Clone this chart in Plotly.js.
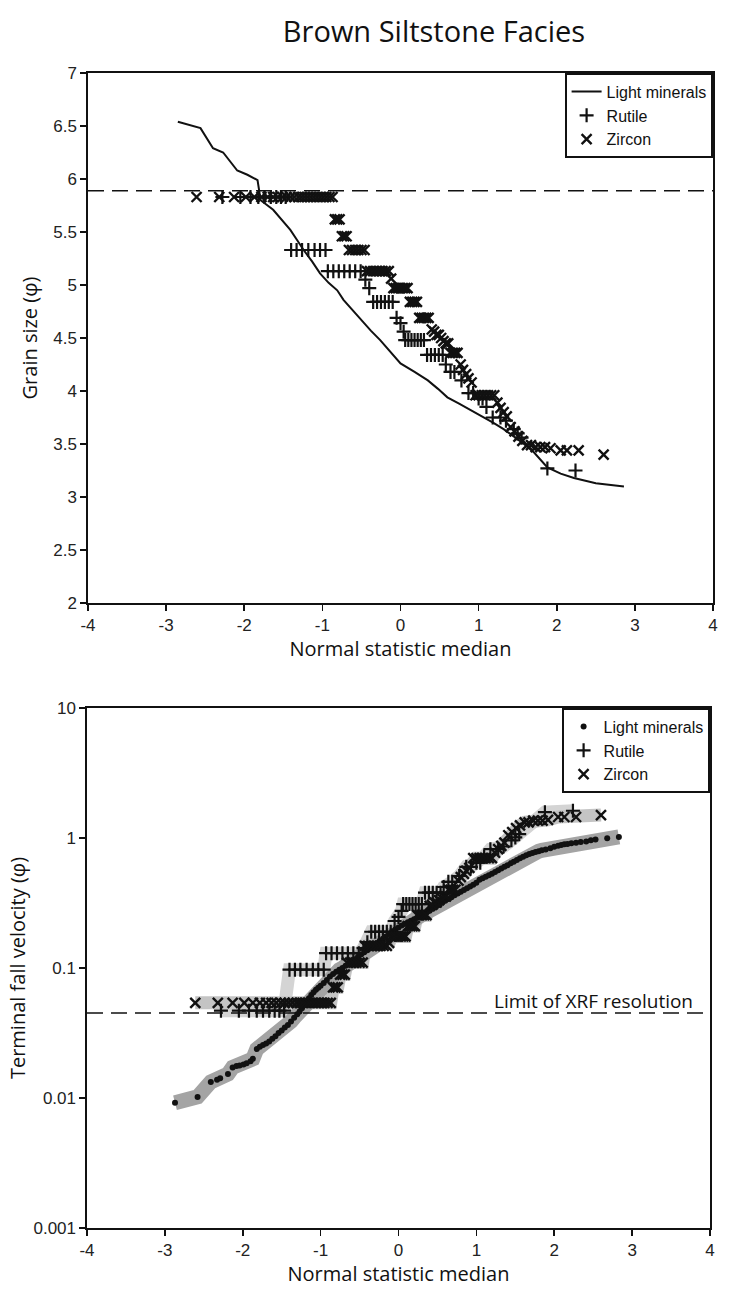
<!DOCTYPE html>
<html>
<head>
<meta charset="utf-8">
<script src="https://cdn.plot.ly/plotly-3.0.1.min.js"></script>
<style>html,body{margin:0;padding:0;background:#fff;}#chart{width:734px;height:1310px;}</style>
</head>
<body>
<div id="chart"></div>
<script>
// ---------- DATA ----------
const chartTitle = 'Brown Siltstone Facies';
const seriesNames = ['Light minerals', 'Rutile', 'Zircon'];
const xTickVals = [-4, -3, -2, -1, 0, 1, 2, 3, 4];
const xTickText = ['-4', '-3', '-2', '-1', '0', '1', '2', '3', '4'];
const yLogTickVals = [0.001, 0.01, 0.1, 1, 10];
const yLogTickText = ['0.001', '0.01', '0.1', '1', '10'];
const xrfLimitGrain = 5.89;      // dashed line, top panel (phi)
const xrfLimitVelocity = 0.045;  // dashed line, bottom panel
const xrfLabel = 'Limit of XRF resolution';
const xrfLabelX = 2.5;

// Top panel: light minerals curve
const lightLineX = [-2.85,-2.56,-2.40,-2.27,-2.09,-1.96,-1.83,-1.79,-1.63,-1.52,-1.41,-1.32,-1.24,-1.13,-1.03,-0.92,-0.81,-0.73,-0.62,-0.51,-0.38,-0.26,-0.13,0.00,0.18,0.35,0.48,0.60,0.75,0.90,1.05,1.19,1.32,1.45,1.58,1.71,1.80,1.88,2.05,2.22,2.50,2.86];
const lightLineY = [6.54,6.48,6.29,6.25,6.08,6.04,5.99,5.80,5.71,5.62,5.52,5.42,5.33,5.22,5.11,5.02,4.95,4.86,4.77,4.67,4.57,4.48,4.37,4.26,4.18,4.10,4.02,3.94,3.88,3.82,3.76,3.70,3.64,3.57,3.50,3.42,3.35,3.28,3.22,3.18,3.13,3.10];

// Rutile: normal statistic median, grain size (top), fall velocity (bottom)
const rutileX = [-2.28,-2.05,-1.92,-1.82,-1.74,-1.66,-1.59,-1.53,-1.47,
  -1.40,-1.33,-1.26,-1.18,-1.10,-1.03,-0.96,
  -0.93,-0.86,-0.79,-0.72,-0.65,-0.58,-0.51,
  -0.45,-0.40,
  -0.35,-0.30,-0.25,-0.20,-0.15,-0.10,
  -0.05,0.00,0.04,
  0.06,0.10,0.14,0.18,0.22,0.26,0.30,
  0.34,0.39,0.44,0.49,0.54,
  0.58,0.64,0.69,0.78,
  0.87,0.93,1.00,1.05,1.10,
  1.18,1.28,1.35,
  1.45,1.50,1.55,
  1.88,2.24];
const rutileGrain = [5.83,5.83,5.83,5.83,5.83,5.83,5.83,5.83,5.83,
  5.33,5.33,5.33,5.33,5.33,5.33,5.33,
  5.13,5.13,5.13,5.13,5.13,5.13,5.13,
  5.05,4.97,
  4.84,4.84,4.84,4.84,4.84,4.84,
  4.69,4.64,4.56,
  4.48,4.48,4.48,4.48,4.48,4.48,4.48,
  4.34,4.34,4.34,4.34,4.34,
  4.25,4.18,4.18,4.10,
  3.98,3.98,3.93,3.93,3.85,
  3.75,3.75,3.72,
  3.64,3.60,3.56,
  3.27,3.25];
const rutileVelocity = [0.047,0.047,0.047,0.047,0.047,0.047,0.047,0.047,0.047,
  0.097,0.097,0.097,0.097,0.097,0.097,0.097,
  0.13,0.13,0.13,0.13,0.13,0.13,0.13,
  0.142,0.158,
  0.19,0.19,0.19,0.19,0.19,0.19,
  0.23,0.247,0.275,
  0.31,0.31,0.31,0.31,0.31,0.31,0.31,
  0.38,0.38,0.38,0.38,0.38,
  0.42,0.46,0.46,0.51,
  0.60,0.60,0.645,0.645,0.72,
  0.82,0.82,0.86,
  0.96,1.01,1.07,
  1.58,1.62];

// Zircon
const zirconX = [-2.61,-2.32,-2.13,-1.98,-1.87,-1.78,-1.70,-1.63,-1.57,-1.51,-1.46,-1.41,-1.36,-1.31,-1.27,-1.23,-1.19,-1.15,-1.11,-1.07,-1.03,-0.99,-0.95,-0.91,-0.87,
  -0.84,-0.81,-0.78,
  -0.75,-0.72,-0.69,
  -0.66,-0.62,-0.58,-0.54,-0.50,-0.46,
  -0.43,-0.39,-0.35,-0.31,-0.27,-0.23,-0.19,-0.15,
  -0.12,
  -0.09,-0.06,-0.03,0.00,0.03,0.06,0.09,
  0.12,0.15,0.18,0.21,
  0.24,0.27,0.30,0.33,0.36,
  0.40,0.43,0.46,0.49,
  0.52,0.55,0.58,0.61,
  0.64,0.67,0.70,0.73,
  0.77,0.80,0.84,0.87,0.91,
  0.96,1.00,1.04,1.08,1.12,1.16,1.20,
  1.24,1.28,1.32,1.36,
  1.41,1.46,1.51,
  1.56,1.62,1.67,1.73,1.79,1.85,1.92,
  2.05,2.13,2.28,
  2.60];
const zirconGrain = [5.83,5.83,5.83,5.83,5.83,5.83,5.83,5.83,5.83,5.83,5.83,5.83,5.83,5.83,5.83,5.83,5.83,5.83,5.83,5.83,5.83,5.83,5.83,5.83,5.83,
  5.62,5.62,5.62,
  5.46,5.46,5.46,
  5.33,5.33,5.33,5.33,5.33,5.33,
  5.13,5.13,5.13,5.13,5.13,5.13,5.13,5.13,
  5.06,
  4.97,4.97,4.97,4.97,4.97,4.97,4.97,
  4.84,4.84,4.84,4.84,
  4.69,4.69,4.69,4.69,4.69,
  4.58,4.56,4.53,4.53,
  4.50,4.47,4.45,4.45,
  4.36,4.36,4.36,4.36,
  4.25,4.20,4.16,4.12,4.08,
  3.96,3.96,3.96,3.96,3.96,3.96,3.96,
  3.89,3.84,3.80,3.76,
  3.66,3.62,3.57,
  3.53,3.49,3.49,3.47,3.47,3.47,3.46,
  3.44,3.44,3.44,
  3.40];
const zirconVelocity = [0.054,0.054,0.054,0.054,0.054,0.054,0.054,0.054,0.054,0.054,0.054,0.054,0.054,0.054,0.054,0.054,0.054,0.054,0.054,0.054,0.054,0.054,0.054,0.054,0.054,
  0.071,0.071,0.071,
  0.089,0.089,0.089,
  0.11,0.11,0.11,0.11,0.11,0.11,
  0.148,0.148,0.148,0.148,0.148,0.148,0.148,0.148,
  0.156,
  0.175,0.175,0.175,0.175,0.175,0.175,0.175,
  0.21,0.21,0.21,0.21,
  0.255,0.255,0.255,0.255,0.255,
  0.30,0.306,0.32,0.32,
  0.333,0.347,0.356,0.356,
  0.40,0.40,0.40,0.40,
  0.47,0.50,0.53,0.56,0.59,
  0.70,0.70,0.70,0.70,0.70,0.70,0.70,
  0.77,0.82,0.87,0.92,
  1.05,1.11,1.19,
  1.25,1.32,1.32,1.36,1.36,1.36,1.38,
  1.45,1.45,1.45,
  1.50];

// Bottom panel: light minerals points
const lightDotX = [-2.87,-2.58,-2.41,-2.33,-2.29,-2.19,-2.13,-2.08,-2.04,-1.99,-1.95,-1.90,-1.87,-1.82,-1.78,-1.74,-1.70,-1.66,-1.62,-1.58,-1.54,-1.50,-1.46,-1.42,-1.38,-1.34,-1.30,-1.27,-1.24,-1.21,-1.18,-1.15,-1.12,-1.09,-1.06,-1.03,-1.00,-0.96,-0.92,-0.88,-0.84,-0.80,-0.76,-0.72,-0.68,-0.64,-0.60,-0.56,-0.52,-0.48,-0.44,-0.40,-0.36,-0.32,-0.28,-0.24,-0.20,-0.16,-0.12,-0.08,-0.04,0.00,0.04,0.08,0.12,0.16,0.20,0.24,0.28,0.32,0.36,0.40,0.44,0.48,0.52,0.56,0.60,0.64,0.68,0.72,0.76,0.80,0.84,0.88,0.92,0.96,1.00,1.04,1.08,1.12,1.16,1.20,1.24,1.28,1.32,1.36,1.40,1.44,1.48,1.52,1.56,1.60,1.64,1.68,1.72,1.76,1.80,1.84,1.89,1.95,2.00,2.05,2.09,2.13,2.17,2.22,2.28,2.34,2.41,2.47,2.53,2.68,2.83];
const lightDotV = [0.0092,0.0102,0.0133,0.0138,0.0142,0.0153,0.0172,0.0176,0.0178,0.0181,0.0185,0.0192,0.0200,0.0238,0.0248,0.0256,0.0262,0.0272,0.0285,0.0298,0.0316,0.0330,0.0348,0.0365,0.0388,0.0415,0.0440,0.0462,0.0490,0.0520,0.0550,0.0585,0.0620,0.0650,0.0680,0.0705,0.0730,0.0765,0.0810,0.0860,0.0900,0.0935,0.0970,0.1000,0.1040,0.1080,0.1120,0.1170,0.1220,0.1270,0.1320,0.1370,0.1430,0.1490,0.1550,0.1620,0.1680,0.1750,0.1830,0.1920,0.1980,0.2050,0.2120,0.2180,0.2250,0.2310,0.2370,0.2440,0.2520,0.2600,0.2680,0.2760,0.2850,0.2950,0.3050,0.3170,0.3290,0.3400,0.3500,0.3620,0.3740,0.3860,0.3980,0.4100,0.4230,0.4370,0.4520,0.4780,0.4900,0.5040,0.5180,0.5320,0.5480,0.5650,0.5820,0.6000,0.6180,0.6380,0.6580,0.6780,0.6980,0.7180,0.7360,0.7520,0.7660,0.7790,0.7920,0.8040,0.8150,0.8350,0.8550,0.8700,0.8850,0.8950,0.9000,0.9100,0.9200,0.9300,0.9400,0.9600,0.9750,0.9950,1.0200];

// ---------- STYLE ----------
const INK = '#111111';
const tickFont = {family: 'Liberation Sans, Arial, sans-serif', size: 17, color: '#222'};
const titleFont = {family: 'Open Sans, sans-serif', size: 20, color: '#111'};
const legendFont = {family: 'Liberation Sans, Arial, sans-serif', size: 16, color: '#111'};
const W = 734, H = 1310;

const rutMarker = {symbol: 'cross-thin-open', size: 10, color: INK, line: {color: INK, width: 2.2}};
const zirMarker = {symbol: 'x-thin-open', size: 10, color: INK, line: {color: INK, width: 2.4}};

const traces = [
  // ---- top panel ----
  {x: lightLineX, y: lightLineY, xaxis: 'x', yaxis: 'y', mode: 'lines', name: seriesNames[0],
   line: {color: INK, width: 2}, legend: 'legend'},
  {x: rutileX, y: rutileGrain, xaxis: 'x', yaxis: 'y', mode: 'markers', name: seriesNames[1],
   marker: rutMarker, legend: 'legend'},
  {x: zirconX, y: zirconGrain, xaxis: 'x', yaxis: 'y', mode: 'markers', name: seriesNames[2],
   marker: zirMarker, legend: 'legend'},
  // ---- bottom panel: grey bands ----
  {x: rutileX, y: rutileVelocity, xaxis: 'x2', yaxis: 'y2', mode: 'lines', showlegend: false,
   line: {color: '#d4d4d4', width: 13}, hoverinfo: 'skip'},
  {x: zirconX, y: zirconVelocity, xaxis: 'x2', yaxis: 'y2', mode: 'lines', showlegend: false,
   line: {color: '#c4c4c4', width: 13}, hoverinfo: 'skip'},
  {x: lightDotX, y: lightDotV, xaxis: 'x2', yaxis: 'y2', mode: 'lines', showlegend: false,
   line: {color: '#a4a4a4', width: 15}, hoverinfo: 'skip'},
  // ---- bottom panel: markers ----
  {x: lightDotX, y: lightDotV, xaxis: 'x2', yaxis: 'y2', mode: 'markers', name: seriesNames[0],
   marker: {symbol: 'circle', size: 6, color: INK}, legend: 'legend2'},
  {x: rutileX, y: rutileVelocity, xaxis: 'x2', yaxis: 'y2', mode: 'markers', name: seriesNames[1],
   marker: rutMarker, legend: 'legend2'},
  {x: zirconX, y: zirconVelocity, xaxis: 'x2', yaxis: 'y2', mode: 'markers', name: seriesNames[2],
   marker: zirMarker, legend: 'legend2'}
];

const axisCommon = {
  showline: true, linecolor: INK, linewidth: 1.6, mirror: true,
  ticks: 'outside', ticklen: 6, tickwidth: 1.6, tickcolor: INK,
  showgrid: false, zeroline: false, tickfont: tickFont
};

const layout = {
  width: W, height: H, autosize: false,
  margin: {l: 0, r: 0, t: 0, b: 0},
  paper_bgcolor: '#fff', plot_bgcolor: '#fff',
  title: {text: chartTitle, x: 434 / W, xanchor: 'center', xref: 'container',
          y: 1 - 32 / H, yanchor: 'middle', yref: 'container',
          font: {family: 'Open Sans, sans-serif', size: 29, color: '#111'}},
  xaxis: Object.assign({}, axisCommon, {
    domain: [88 / W, 713 / W], range: [-4, 4], anchor: 'y',
    tickmode: 'array', tickvals: xTickVals, ticktext: xTickText,
    title: {text: 'Normal statistic median', font: titleFont, standoff: 0}
  }),
  yaxis: Object.assign({}, axisCommon, {
    domain: [1 - 603 / H, 1 - 73 / H], range: [2, 7], dtick: 0.5, tick0: 2, anchor: 'x',
    title: {text: 'Grain size (φ)', font: titleFont, standoff: 10}
  }),
  xaxis2: Object.assign({}, axisCommon, {
    domain: [87 / W, 710 / W], range: [-4, 4], anchor: 'y2',
    tickmode: 'array', tickvals: xTickVals, ticktext: xTickText,
    title: {text: 'Normal statistic median', font: titleFont, standoff: 0}
  }),
  yaxis2: Object.assign({}, axisCommon, {
    type: 'log', domain: [1 - 1228 / H, 1 - 708 / H], range: [-3, 1], anchor: 'x2',
    tickmode: 'array', tickvals: yLogTickVals, ticktext: yLogTickText,
    title: {text: 'Terminal fall velocity (φ)', font: titleFont, standoff: 2}
  }),
  legend: {x: 713 / W, xanchor: 'right', y: 1 - 73 / H, yanchor: 'top',
           bgcolor: '#fff', bordercolor: INK, borderwidth: 1.6, font: legendFont,
           itemwidth: 30, tracegroupgap: 0},
  legend2: {x: 710 / W, xanchor: 'right', y: 1 - 708 / H, yanchor: 'top',
            bgcolor: '#fff', bordercolor: INK, borderwidth: 1.6, font: legendFont,
            itemwidth: 30, tracegroupgap: 0},
  shapes: [
    {type: 'line', xref: 'x', yref: 'y', x0: -4, x1: 4, y0: xrfLimitGrain, y1: xrfLimitGrain,
     line: {color: INK, width: 1.5, dash: '16px,8px'}},
    {type: 'line', xref: 'x2', yref: 'y2', x0: -4, x1: 4, y0: xrfLimitVelocity, y1: xrfLimitVelocity,
     line: {color: INK, width: 1.5, dash: '16px,8px'}}
  ],
  annotations: [
    {text: xrfLabel, xref: 'x2', yref: 'y2', x: xrfLabelX, y: Math.log10(xrfLimitVelocity),
     xanchor: 'center', yanchor: 'bottom', showarrow: false, yshift: -3,
     font: {family: 'Open Sans, sans-serif', size: 19, color: '#111'}}
  ]
};

Plotly.newPlot('chart', traces, layout, {displayModeBar: false, staticPlot: true});
</script>
</body>
</html>
